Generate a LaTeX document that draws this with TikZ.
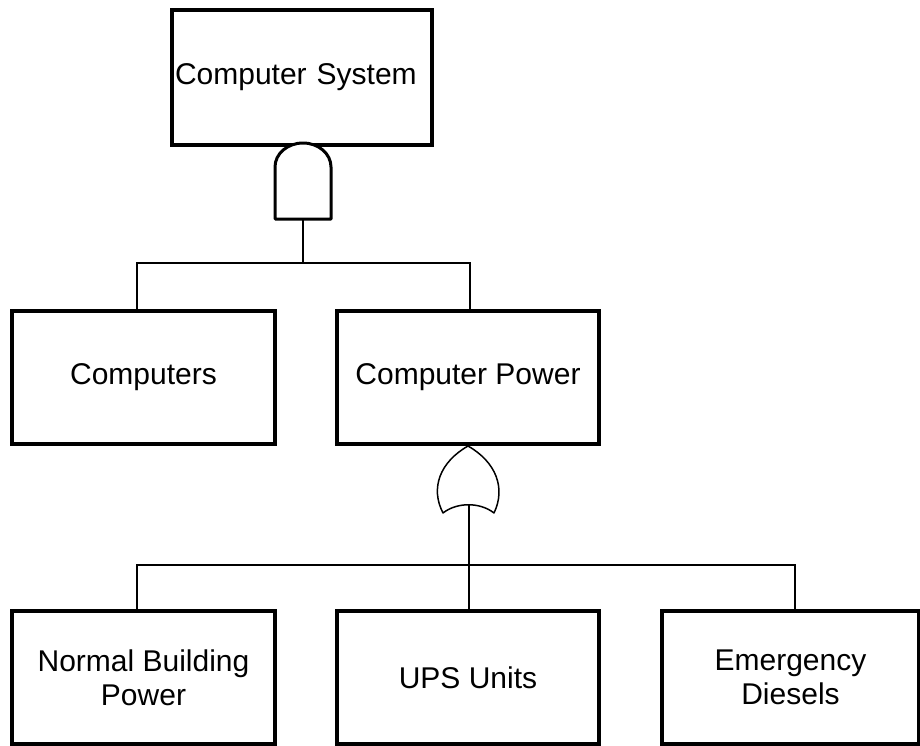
\documentclass[tikz,border=0pt]{standalone}
\usepackage{fontspec}
\setmainfont{Liberation Sans}
\begin{document}
\begin{tikzpicture}[x=1pt,y=-1pt,
  evbox/.style={draw=black,line width=3.4pt,rectangle,inner sep=0pt,
    minimum height=133pt,align=center,
    font=\fontsize{30}{34}\selectfont},
  conn/.style={draw=black,line width=1.3pt},
  andgate/.style={draw=black,line width=3pt,line join=round},
  orgate/.style={draw=black,line width=1.5pt,line join=round}]
\useasboundingbox (0,0) rectangle (920,746);
% events
\node[evbox,minimum width=260pt,minimum height=135pt,text width=254pt,align=left] (top) at (302,77.5) {Computer System};
\node[evbox,minimum width=263pt] (comp) at (143.5,377.5) {Computers};
\node[evbox,minimum width=262pt] (cpow) at (468,377.5) {Computer Power};
\node[evbox,minimum width=263pt] (nbp) at (143.5,677.5) {Normal Building\\Power};
\node[evbox,minimum width=262pt] (ups) at (468,677.5) {UPS Units};
\node[evbox,minimum width=257pt] (ed) at (790.5,677.5) {Emergency\\Diesels};
% AND gate
\coordinate (andtop) at (303,143);
\coordinate (andbot) at (303,219);
\draw[andgate,fill=white] (275,219) -- (275,167)
  .. controls (275,153.7) and (287.5,143) .. (andtop)
  .. controls (318.5,143) and (331,153.7) .. (331,167)
  -- (331,219) -- cycle;
% OR gate
\coordinate (ortop) at (468,446);
\coordinate (orbot) at (469,505);
\draw[orgate,fill=white] (443,513) .. controls (430,488) and (440,462) .. (ortop)
  .. controls (496,462) and (506,488) .. (494,513)
  .. controls (480,502) and (457,502) .. (443,513) -- cycle;
% connectors
\coordinate (j1) at (303,263);
\coordinate (j2) at (469,565);
\coordinate (c1) at ([xshift=-6.5pt]comp.north);
\coordinate (c2) at ([xshift=2pt]cpow.north);
\coordinate (b1) at ([xshift=-6.5pt]nbp.north);
\coordinate (b2) at ([xshift=1pt]ups.north);
\coordinate (b3) at ([xshift=4.5pt]ed.north);
\draw[conn] (andbot) -- (j1);
\draw[conn] (c1) |- (j1) -| (c2);
\draw[conn] (cpow.south) -- (ortop);
\draw[conn] (orbot) -- (j2) -- (b2);
\draw[conn] (b1) |- (j2) -| (b3);
\end{tikzpicture}
\end{document}
